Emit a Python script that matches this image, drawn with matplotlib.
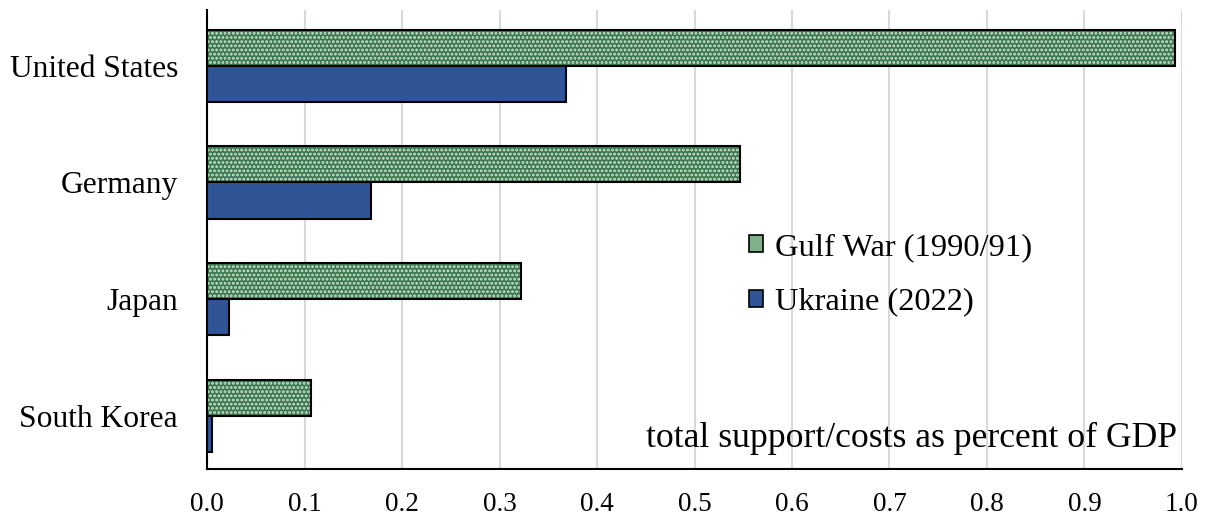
import matplotlib.pyplot as plt
import numpy as np
from matplotlib.patches import Patch

plt.rcParams['font.family'] = ['Liberation Serif', 'DejaVu Serif']
plt.rcParams['hatch.linewidth'] = 1.4

countries = ['United States', 'Germany', 'Japan', 'South Korea']
gulf_war = [0.993, 0.547, 0.322, 0.107]
ukraine = [0.368, 0.168, 0.022, 0.005]

fig = plt.figure(figsize=(12.11, 5.17), dpi=100)
ax = fig.add_axes([0.171, 0.092, 0.805, 0.889])

y = np.arange(len(countries))
h = 0.31

# gulf war bars: green base with light dot hatch, then black outline on top
ax.barh(y - h / 2, gulf_war, height=h, color='#3a774d', edgecolor='#cfe4d4',
        hatch='....', linewidth=0, zorder=3)
ax.barh(y - h / 2, gulf_war, height=h, fill=False, edgecolor='black',
        linewidth=1.5, zorder=4)
ax.barh(y + h / 2, ukraine, height=h, color='#2f5597', edgecolor='black',
        linewidth=1.5, zorder=4)

ax.set_yticks(y)
ax.set_yticklabels(countries, fontsize=22.7)
ax.set_ylim(3.46, -0.48)
ax.set_xlim(0, 1.0)
ticks = np.arange(0, 1.01, 0.1)
ax.set_xticks(ticks)
ax.set_xticklabels([f'{v:.1f}' for v in ticks], fontsize=19.5)
ax.tick_params(axis='y', length=0, pad=21)
ax.tick_params(axis='x', length=0, pad=16)
ax.grid(axis='x', color='#d9d9d9', linewidth=1.5, zorder=0)
ax.set_axisbelow(True)
for s in ['top', 'right']:
    ax.spines[s].set_visible(False)
ax.spines['left'].set_linewidth(1.5)
ax.spines['bottom'].set_linewidth(1.5)

handles = [Patch(facecolor='#7fb08c', edgecolor='black', linewidth=1.2, label='Gulf War (1990/91)'),
           Patch(facecolor='#2f5597', edgecolor='black', linewidth=1.2, label='Ukraine (2022)')]
ax.legend(handles=handles, loc='upper left', bbox_to_anchor=(0.526, 0.578), frameon=False,
          fontsize=23.4, handlelength=0.42, handleheight=0.42, handletextpad=0.38,
          labelspacing=0.79)

ax.text(0.995, 0.032, 'total support/costs as percent of GDP', transform=ax.transAxes,
        ha='right', va='bottom', fontsize=25.7)

fig.savefig('out.png', dpi=100)
